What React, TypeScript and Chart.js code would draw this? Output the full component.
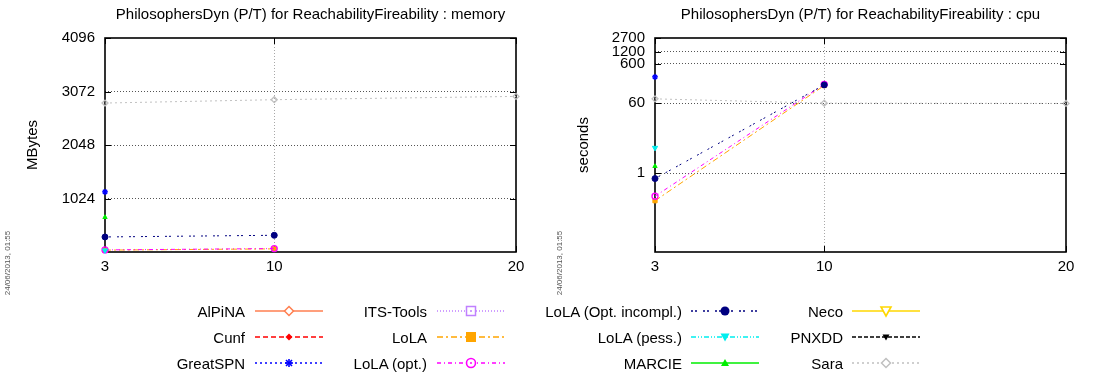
import React, { useEffect, useRef } from "react";
import { Chart, registerables } from "chart.js";

Chart.register(...registerables);

// ---------- data ----------
const sizes = [3, 10, 20];
const xTickValues = [3, 10, 20];
const memTickValues = [1024, 2048, 3072, 4096];
const cpuTickValues = [1, 60, 600, 1200, 2700];
const timestamp = "24/06/2013, 01:55";

const toolNames = [
  "AlPiNA",
  "Cunf",
  "GreatSPN",
  "ITS-Tools",
  "LoLA",
  "LoLA (opt.)",
  "LoLA (Opt. incompl.)",
  "LoLA (pess.)",
  "MARCIE",
  "Neco",
  "PNXDD",
  "Sara",
];

// memory (MBytes) at sizes 3, 10, 20
const memAlPiNA = [null, null, null];
const memCunf = [null, null, null];
const memGreatSPN = [1150, null, null];
const memITSTools = [null, null, null];
const memLoLA = [36, 60, null];
const memLoLAopt = [40, 66, null];
const memLoLAincompl = [288, 320, null];
const memLoLApess = [30, null, null];
const memMARCIE = [665, null, null];
const memNeco = [null, null, null];
const memPNXDD = [null, null, null];
const memSara = [2851, 2915, 2978];

// cpu (seconds) at sizes 3, 10, 20
const cpuAlPiNA = [null, null, null];
const cpuCunf = [null, null, null];
const cpuGreatSPN = [277, null, null];
const cpuITSTools = [null, null, null];
const cpuLoLA = [0.2, 168, null];
const cpuLoLAopt = [0.26, 180, null];
const cpuLoLAincompl = [0.73, 174, null];
const cpuLoLApess = [4.4, null, null];
const cpuMARCIE = [1.5, null, null];
const cpuNeco = [null, null, null];
const cpuPNXDD = [null, null, null];
const cpuSara = [77, 60, 59];

const memSeries = [
  memAlPiNA, memCunf, memGreatSPN, memITSTools, memLoLA, memLoLAopt,
  memLoLAincompl, memLoLApess, memMARCIE, memNeco, memPNXDD, memSara,
];
const cpuSeries = [
  cpuAlPiNA, cpuCunf, cpuGreatSPN, cpuITSTools, cpuLoLA, cpuLoLAopt,
  cpuLoLAincompl, cpuLoLApess, cpuMARCIE, cpuNeco, cpuPNXDD, cpuSara,
];

// ---------- styles ----------
type Style = {
  color: string;
  dash: number[];
  point: string;
  rotation: number;
  filled: boolean;
  radius: number;
  marker: string;
};

const styles: Style[] = [
  { color: "#ff7f50", dash: [], point: "rectRot", rotation: 0, filled: false, radius: 3, marker: "diamondOpen" },
  { color: "#ff0000", dash: [5, 3], point: "rectRot", rotation: 0, filled: true, radius: 2.5, marker: "diamondFilled" },
  { color: "#0000ff", dash: [2, 3], point: "star", rotation: 0, filled: false, radius: 3, marker: "star" },
  { color: "#c080ff", dash: [1, 2], point: "rect", rotation: 0, filled: false, radius: 3, marker: "squareOpen" },
  { color: "#ffa500", dash: [6, 3, 2, 3], point: "rect", rotation: 0, filled: true, radius: 3, marker: "squareFilled" },
  { color: "#ff00ff", dash: [4, 3, 1, 3], point: "circle", rotation: 0, filled: false, radius: 3, marker: "circleOpen" },
  { color: "#000080", dash: [2, 2, 2, 6], point: "circle", rotation: 0, filled: true, radius: 3, marker: "circleFilled" },
  { color: "#00eeee", dash: [5, 2, 1, 2, 1, 2], point: "triangle", rotation: 180, filled: true, radius: 3, marker: "triDownFilled" },
  { color: "#00ee00", dash: [], point: "triangle", rotation: 0, filled: true, radius: 2.5, marker: "triUpFilled" },
  { color: "#ffd700", dash: [], point: "triangle", rotation: 180, filled: false, radius: 3, marker: "triDownOpen" },
  { color: "#000000", dash: [4, 2], point: "triangle", rotation: 180, filled: true, radius: 2.5, marker: "triDownSmall" },
  { color: "#c0c0c0", dash: [2, 3], point: "rectRot", rotation: 0, filled: false, radius: 3, marker: "diamondOpen" },
];

const FONT = "'Liberation Sans', Arial, Helvetica, sans-serif";
const CANVAS_W = 547;
const CANVAS_H = 300;
const PLOT_TOP = 38;
const PLOT_BOTTOM = 252;

type PanelProps = {
  title: string;
  yLabel: string;
  series: (number | null)[][];
  yType: "linear" | "logarithmic";
  yMin: number;
  yMax: number;
  yTicks: number[];
  yAxisWidth: number;
  padRight: number;
  left: number;
  yLabelX: number;
  stampX: number;
};

function Panel(p: PanelProps) {
  const ref = useRef<HTMLCanvasElement>(null);
  useEffect(() => {
    const datasets = toolNames.map((name, i) => {
      const s = styles[i];
      return {
        label: name,
        data: sizes.map((x, j) => ({ x, y: p.series[i][j] as any })),
        borderColor: s.color,
        backgroundColor: s.filled ? s.color : "rgba(255,255,255,0)",
        borderWidth: 1,
        borderDash: s.dash,
        pointStyle: s.point as any,
        pointRotation: s.rotation,
        pointRadius: s.radius,
        pointBorderWidth: s.filled ? 1 : 1.3,
        pointBorderColor: s.color,
        pointBackgroundColor: s.filled ? s.color : "rgba(255,255,255,0)",
        showLine: true,
        spanGaps: false,
        clip: false as any,
        order: toolNames.length - i,
      };
    });

    const frame = {
      id: "frame",
      beforeDatasetsDraw(chart: any) {
        const { ctx, chartArea: a, scales } = chart;
        ctx.save();
        ctx.strokeStyle = "#000";
        ctx.lineWidth = 1;
        ctx.setLineDash([]);
        ctx.beginPath();
        for (const v of p.yTicks) {
          const y = Math.round(scales.y.getPixelForValue(v)) + 0.5;
          ctx.moveTo(a.left, y);
          ctx.lineTo(a.left + 6, y);
          ctx.moveTo(a.right, y);
          ctx.lineTo(a.right - 6, y);
        }
        for (const v of xTickValues) {
          const x = Math.round(scales.x.getPixelForValue(v)) + 0.5;
          ctx.moveTo(x, a.bottom);
          ctx.lineTo(x, a.bottom - 6);
          ctx.moveTo(x, a.top);
          ctx.lineTo(x, a.top + 6);
        }
        ctx.stroke();
        ctx.lineWidth = 1.6;
        ctx.strokeRect(a.left, a.top, a.right - a.left, a.bottom - a.top);
        ctx.restore();
      },
      afterDraw(chart: any) {
        const { ctx, chartArea: a } = chart;
        ctx.save();
        ctx.fillStyle = "#000";
        ctx.font = `15px ${FONT}`;
        ctx.textAlign = "center";
        ctx.textBaseline = "middle";
        ctx.fillText(p.title, (a.left + a.right) / 2, 15);
        ctx.save();
        ctx.translate(p.yLabelX, (a.top + a.bottom) / 2);
        ctx.rotate(-Math.PI / 2);
        ctx.fillText(p.yLabel, 0, 0);
        ctx.restore();
        ctx.save();
        ctx.fillStyle = "#555";
        ctx.font = `8px ${FONT}`;
        ctx.translate(p.stampX, 263);
        ctx.rotate(-Math.PI / 2);
        ctx.fillText(timestamp, 0, 0);
        ctx.restore();
        ctx.restore();
      },
    };

    const chart = new Chart(ref.current as HTMLCanvasElement, {
      type: "line",
      data: { datasets: datasets as any },
      plugins: [frame],
      options: {
        responsive: false,
        animation: false,
        devicePixelRatio: 1,
        parsing: false as any,
        normalized: true,
        layout: { padding: { top: PLOT_TOP, left: 0, right: p.padRight, bottom: 0 } },
        plugins: {
          legend: { display: false },
          title: { display: false },
          tooltip: { enabled: false },
        },
        scales: {
          x: {
            type: "linear",
            min: 3,
            max: 20,
            afterBuildTicks: (s: any) => {
              s.ticks = xTickValues.map((v) => ({ value: v }));
            },
            afterFit: (s: any) => {
              s.height = CANVAS_H - PLOT_BOTTOM;
            },
            grid: {
              color: (c: any) => (c.tick && c.tick.value === 10 ? "#a8a8a8" : "rgba(0,0,0,0)"),
              drawTicks: false,
              lineWidth: 1,
            },
            border: { display: false, dash: [1, 2] },
            ticks: {
              color: "#000",
              font: { family: FONT, size: 15 },
              padding: 6,
              autoSkip: false,
              maxRotation: 0,
              callback: (v: any) => String(v),
            },
          },
          y: {
            type: p.yType,
            min: p.yMin,
            max: p.yMax,
            afterBuildTicks: (s: any) => {
              s.ticks = p.yTicks.map((v) => ({ value: v }));
            },
            afterFit: (s: any) => {
              s.width = p.yAxisWidth;
            },
            grid: {
              color: (c: any) => (c.tick && c.tick.value === p.yMax ? "rgba(0,0,0,0)" : "#555"),
              drawTicks: false,
              lineWidth: 1,
            },
            border: { display: false, dash: [1, 2] },
            ticks: {
              color: "#000",
              font: { family: FONT, size: 15 },
              padding: 10,
              autoSkip: false,
              callback: (v: any) => String(v),
            },
          },
        } as any,
      },
    });
    return () => chart.destroy();
  }, []);
  return (
    <canvas
      ref={ref}
      width={CANVAS_W}
      height={CANVAS_H}
      style={{ position: "absolute", left: p.left, top: 0, width: CANVAS_W, height: CANVAS_H }}
    />
  );
}

// ---------- legend ----------
const legendTextRight = [245, 427, 682, 843];
const legendLineStart = [255, 437, 691, 852];
const legendLineLen = 68;
const legendRowY = [311, 337, 363];

function Marker({ kind, color, cx, cy }: { kind: string; color: string; cx: number; cy: number }) {
  switch (kind) {
    case "diamondOpen":
      return (
        <polygon
          points={`${cx},${cy - 4.5} ${cx + 4.5},${cy} ${cx},${cy + 4.5} ${cx - 4.5},${cy}`}
          fill="white"
          stroke={color}
          strokeWidth={1.5}
        />
      );
    case "diamondFilled":
      return (
        <polygon
          points={`${cx},${cy - 3.5} ${cx + 3.5},${cy} ${cx},${cy + 3.5} ${cx - 3.5},${cy}`}
          fill={color}
        />
      );
    case "star":
      return (
        <g stroke={color} strokeWidth={1.6}>
          <line x1={cx - 4} y1={cy} x2={cx + 4} y2={cy} />
          <line x1={cx} y1={cy - 4} x2={cx} y2={cy + 4} />
          <line x1={cx - 3} y1={cy - 3} x2={cx + 3} y2={cy + 3} />
          <line x1={cx - 3} y1={cy + 3} x2={cx + 3} y2={cy - 3} />
        </g>
      );
    case "squareOpen":
      return (
        <g>
          <rect x={cx - 4.5} y={cy - 4.5} width={9} height={9} fill="white" stroke={color} strokeWidth={1.5} />
          <circle cx={cx} cy={cy} r={1} fill={color} />
        </g>
      );
    case "squareFilled":
      return <rect x={cx - 5} y={cy - 5} width={10} height={10} fill={color} />;
    case "circleOpen":
      return (
        <g>
          <circle cx={cx} cy={cy} r={4.5} fill="white" stroke={color} strokeWidth={1.6} />
          <circle cx={cx} cy={cy} r={1} fill={color} />
        </g>
      );
    case "circleFilled":
      return <circle cx={cx} cy={cy} r={4.5} fill={color} />;
    case "triDownFilled":
      return <polygon points={`${cx - 4.5},${cy - 3.5} ${cx + 4.5},${cy - 3.5} ${cx},${cy + 4.5}`} fill={color} />;
    case "triUpFilled":
      return <polygon points={`${cx - 4},${cy + 3} ${cx + 4},${cy + 3} ${cx},${cy - 4}`} fill={color} />;
    case "triDownOpen":
      return (
        <polygon
          points={`${cx - 5},${cy - 4} ${cx + 5},${cy - 4} ${cx},${cy + 5}`}
          fill="white"
          stroke={color}
          strokeWidth={1.6}
        />
      );
    case "triDownSmall":
      return <polygon points={`${cx - 3.5},${cy - 2.5} ${cx + 3.5},${cy - 2.5} ${cx},${cy + 3.5}`} fill={color} />;
    default:
      return null;
  }
}

function Legend() {
  return (
    <svg
      width={1094}
      height={374}
      style={{ position: "absolute", left: 0, top: 0, pointerEvents: "none" }}
    >
      {toolNames.map((name, i) => {
        const col = Math.floor(i / 3);
        const row = i % 3;
        const s = styles[i];
        const y = legendRowY[row];
        const x0 = legendLineStart[col];
        const x1 = x0 + legendLineLen;
        const cx = (x0 + x1) / 2;
        return (
          <g key={name}>
            <text
              x={legendTextRight[col]}
              y={y}
              textAnchor="end"
              dominantBaseline="central"
              fontFamily={FONT}
              fontSize={15}
              fill="#000"
            >
              {name}
            </text>
            <line
              x1={x0}
              y1={y}
              x2={x1}
              y2={y}
              stroke={s.color}
              strokeWidth={1.6}
              strokeDasharray={s.dash.length ? s.dash.join(" ") : undefined}
            />
            <Marker kind={s.marker} color={s.color} cx={cx} cy={y} />
          </g>
        );
      })}
    </svg>
  );
}

export default function App() {
  return (
    <div style={{ position: "absolute", left: 0, top: 0, width: 1094, height: 374, background: "#fff" }}>
      <Panel
        title="PhilosophersDyn (P/T) for ReachabilityFireability : memory"
        yLabel="MBytes"
        series={memSeries}
        yType="linear"
        yMin={0}
        yMax={4096}
        yTicks={memTickValues}
        yAxisWidth={105}
        padRight={31}
        left={0}
        yLabelX={33}
        stampX={8}
      />
      <Panel
        title="PhilosophersDyn (P/T) for ReachabilityFireability : cpu"
        yLabel="seconds"
        series={cpuSeries}
        yType="logarithmic"
        yMin={0.01}
        yMax={2700}
        yTicks={cpuTickValues}
        yAxisWidth={108}
        padRight={28}
        left={547}
        yLabelX={37}
        stampX={13}
      />
      <Legend />
    </div>
  );
}
